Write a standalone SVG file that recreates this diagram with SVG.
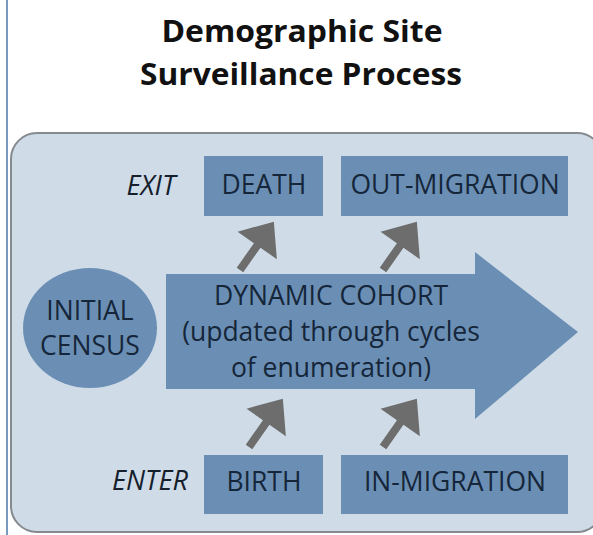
<svg xmlns="http://www.w3.org/2000/svg" width="593" height="535" viewBox="0 0 593 535">
  <defs>
    <style>
      .title { font-family: "Open Sans", "Liberation Sans", sans-serif; font-weight: bold; font-size: 31px; fill: #111; text-anchor: middle; }
      .lbl { font-family: "Open Sans", "Liberation Sans", sans-serif; font-size: 26.5px; fill: #15263a; text-anchor: middle; }
      .side { font-family: "Open Sans", "Liberation Sans", sans-serif; font-size: 27px; font-style: italic; fill: #15202c; text-anchor: middle; }
      .box { fill: #6b8fb4; }
      .garrow { fill: #6d6d6d; }
    </style>
    <path id="ga" d="M0,-4 L30,-4 L30,-24 L59,0 L30,24 L30,4 L0,4 Z"/>
  </defs>
  <rect x="0" y="0" width="593" height="535" fill="#ffffff"/>
  <line x1="7" y1="0" x2="7" y2="535" stroke="#4a78a8" stroke-width="1.5"/>

  <g id="title">
    <text class="title" x="302" y="42" textLength="281" lengthAdjust="spacingAndGlyphs">Demographic Site</text>
    <text class="title" x="301" y="85" textLength="322" lengthAdjust="spacingAndGlyphs">Surveillance Process</text>
  </g>

  <g id="panel">
    <rect x="11" y="133" width="592" height="399" rx="26" ry="26" fill="#cfdce7" stroke="#858a8e" stroke-width="2"/>
  </g>

  <g id="exit-label"><text class="side" x="151" y="195">EXIT</text></g>
  <g id="enter-label"><text class="side" x="150" y="490">ENTER</text></g>

  <g id="death">
    <rect class="box" x="204" y="156" width="119" height="60"/>
    <text class="lbl" x="264" y="194">DEATH</text>
  </g>
  <g id="out-migration">
    <rect class="box" x="341" y="156" width="227" height="60"/>
    <text class="lbl" x="455" y="194">OUT-MIGRATION</text>
  </g>

  <g id="dynamic-cohort">
    <path class="box" d="M166,274 L475,274 L475,252 L578,332 L475,419 L475,389 L166,389 Z"/>
    <text class="lbl" x="331" y="305">DYNAMIC COHORT</text>
    <text class="lbl" x="331" y="341">(updated through cycles</text>
    <text class="lbl" x="331" y="377">of enumeration)</text>
  </g>

  <g id="initial-census">
    <ellipse class="box" cx="90" cy="328" rx="67" ry="60"/>
    <text class="lbl" x="90" y="320">INITIAL</text>
    <text class="lbl" x="90" y="355">CENSUS</text>
  </g>

  <g id="birth">
    <rect class="box" x="204" y="455" width="119" height="59"/>
    <text class="lbl" x="264" y="491">BIRTH</text>
  </g>
  <g id="in-migration">
    <rect class="box" x="341" y="455" width="227" height="59"/>
    <text class="lbl" x="455" y="491">IN-MIGRATION</text>
  </g>

  <g id="connectors">
    <use href="#ga" class="garrow" transform="translate(240,270) rotate(-55)"/>
    <use href="#ga" class="garrow" transform="translate(383,270) rotate(-55)"/>
    <use href="#ga" class="garrow" transform="translate(249,447) rotate(-55)"/>
    <use href="#ga" class="garrow" transform="translate(383,447) rotate(-55)"/>
  </g>
</svg>
